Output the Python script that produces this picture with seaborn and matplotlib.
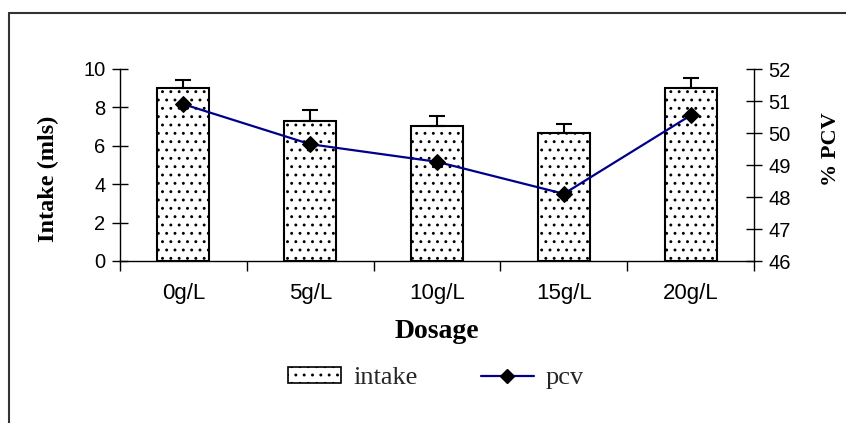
import numpy as np
import pandas as pd
import matplotlib
matplotlib.use('Agg')
import matplotlib.pyplot as plt
from matplotlib.lines import Line2D
from matplotlib.patches import Patch
import seaborn as sns

# data
dosage = ['0g/L', '5g/L', '10g/L', '15g/L', '20g/L']
intake = [9.0, 7.3, 7.05, 6.65, 9.0]
intake_err = [0.45, 0.55, 0.5, 0.47, 0.55]
pcv = [50.9, 49.65, 49.1, 48.1, 50.55]

sns.set_theme(style='white')
plt.rcParams['font.family'] = ['Liberation Sans', 'DejaVu Sans']
plt.rcParams['hatch.linewidth'] = 0.9
plt.rcParams['hatch.color'] = 'black'

df = pd.DataFrame({'dosage': dosage, 'intake': intake, 'pcv': pcv})
serif = {'family': ['Liberation Serif', 'DejaVu Serif'], 'weight': 'bold'}

fig = plt.figure(figsize=(8.46, 4.23), dpi=100)
ax = fig.add_axes([120 / 846, 1 - 261 / 423, 634 / 846, 192 / 423])

# bars + upper error bars
sns.barplot(data=df, x='dosage', y='intake', color='white', edgecolor='black',
            linewidth=1.5, width=0.41, hatch='..', ax=ax)
ax.errorbar(np.arange(len(dosage)), intake, yerr=[np.zeros(len(dosage)), intake_err],
            fmt='none', ecolor='black', elinewidth=1.5, capsize=5.5, capthick=1.5)

# pcv line on the right axis
ax2 = ax.twinx()
sns.lineplot(x=np.arange(len(dosage)), y=pcv, ax=ax2, color='#00008b', linewidth=1.6,
             marker='D', markersize=8, markerfacecolor='black', markeredgecolor='black')

ax.set_xlim(-0.5, len(dosage) - 0.5)
ax.set_ylim(0, 10)
ax.set_yticks(np.arange(0, 11, 2))
ax2.set_ylim(46, 52)
ax2.set_yticks(np.arange(46, 53, 1))

# ticks
ax.tick_params(axis='y', left=True, direction='inout', length=11, width=1,
               color='black', labelsize=14.5, pad=5, labelcolor='black')
ax2.tick_params(axis='y', right=True, direction='inout', length=11, width=1,
                color='black', labelsize=14.5, pad=5, labelcolor='black')
ax.tick_params(axis='x', which='major', length=0, labelsize=16, pad=16, labelcolor='black')
ax.set_xticks(np.arange(-0.5, len(dosage)), minor=True)
ax.tick_params(axis='x', which='minor', bottom=True, direction='out', length=7,
               width=1, color='black')

# spines
for s in ['top', 'right']:
    ax.spines[s].set_visible(False)
for s in ['top', 'left', 'bottom']:
    ax2.spines[s].set_visible(False)
for a, s in [(ax, 'left'), (ax, 'bottom'), (ax2, 'right')]:
    a.spines[s].set_color('black')
    a.spines[s].set_linewidth(1)

# labels
ax.set_ylabel('Intake (mls)', fontdict=serif, fontsize=17.5, color='black')
ax.yaxis.set_label_coords((59 - 120) / 634, (261 - 179) / 192)
ax2.set_ylabel('% PCV', fontdict=serif, fontsize=16, color='black')
ax2.yaxis.set_label_coords((821 - 120) / 634, (261 - 149) / 192)
ax.set_xlabel('Dosage', fontdict=serif, fontsize=20, color='black')
ax.xaxis.set_label_coords(0.5, (261 - 319) / 192)

# legend
handles = [Patch(facecolor='white', edgecolor='black', hatch='..', linewidth=1.2),
           Line2D([], [], color='#00008b', linewidth=1.6, marker='D', markersize=7,
                  markerfacecolor='black', markeredgecolor='black')]
fig.legend(handles, ['intake', 'pcv'], loc='center', bbox_to_anchor=(436 / 846, 1 - 378 / 423),
           ncol=2, frameon=False, prop={'family': ['Liberation Serif', 'DejaVu Serif'], 'size': 19},
           handlelength=2.0, handleheight=0.55, handletextpad=0.45, columnspacing=2.4)

# outer frame (left and top edges)
fig.add_artist(Line2D([8.5 / 846, 8.5 / 846], [0, 1 - 13 / 423], transform=fig.transFigure,
                      color='#333333', linewidth=1.5))
fig.add_artist(Line2D([8.5 / 846, 1], [1 - 13 / 423, 1 - 13 / 423], transform=fig.transFigure,
                      color='#333333', linewidth=1.5))

fig.savefig('out.png', dpi=100)
